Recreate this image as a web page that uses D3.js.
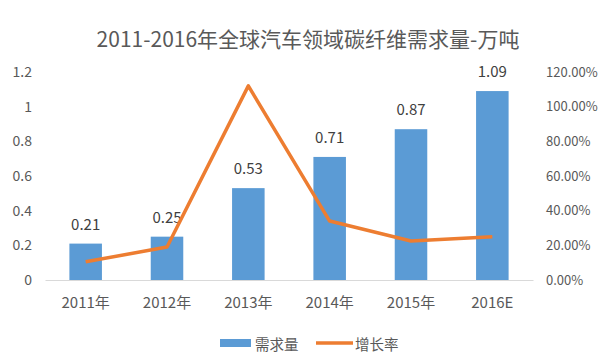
<!DOCTYPE html>
<html><head><meta charset="utf-8">
<script src="https://cdn.jsdelivr.net/npm/d3@7"></script>
<style>body{margin:0;background:#fff}svg{display:block}text{font-family:"Noto Sans CJK SC","Noto Sans",sans-serif}</style>
</head><body>
<svg id="c" width="600" height="354"></svg>
<script>
const categories = ["2011年","2012年","2013年","2014年","2015年","2016E"];
const demand = [0.21,0.25,0.53,0.71,0.87,1.09];
const growth = [0.105,0.19,1.12,0.34,0.225,0.25];
const leftTicks = [0,0.2,0.4,0.6,0.8,1,1.2];
const rightTicks = [0,0.2,0.4,0.6,0.8,1.0,1.2];
const title = "2011-2016年全球汽车领域碳纤维需求量-万吨";
const seriesNames = ["需求量","增长率"];

const svg = d3.select("#c");
const m = {l:45, r:533, t:72, b:280};
const x = d3.scaleBand().domain(categories).range([m.l, m.r]).paddingInner(0.6).paddingOuter(0.3);
const y = d3.scaleLinear().domain([0,1.2]).range([m.b, m.t]);
const y2 = d3.scaleLinear().domain([0,1.2]).range([m.b, m.t]);
const grey = "#595959";

svg.append("text").attr("x",308).attr("y",38).attr("text-anchor","middle")
  .attr("dominant-baseline","central").attr("font-size",21).attr("fill",grey).text(title);

// left axis
const la = svg.append("g").attr("transform",`translate(${m.l},0)`)
  .call(d3.axisLeft(y).tickValues(leftTicks).tickSize(0).tickPadding(13).tickFormat(d3.format("")));
la.select(".domain").remove();
la.selectAll("text").attr("font-size",14).attr("fill",grey);

// right axis
const ra = svg.append("g").attr("transform",`translate(${m.r},0)`)
  .call(d3.axisRight(y2).tickValues(rightTicks).tickSize(0).tickPadding(13).tickFormat(d3.format(".2%")));
ra.select(".domain").remove();
ra.selectAll("text").attr("font-size",13).attr("fill",grey);

// bottom axis
const ba = svg.append("g").attr("transform",`translate(0,${m.b})`)
  .call(d3.axisBottom(x).tickSize(0).tickPadding(17).tickSizeOuter(0));
ba.select(".domain").attr("stroke","#d9d9d9").attr("stroke-width",1);
ba.selectAll("text").attr("font-size",15).attr("fill",grey);

// bars
svg.append("g").selectAll("rect").data(demand).join("rect")
  .attr("x",(d,i)=>x(categories[i])).attr("width",x.bandwidth())
  .attr("y",d=>y(d)).attr("height",d=>y(0)-y(d)).attr("fill","#5B9BD5");

svg.append("g").selectAll("text").data(demand).join("text")
  .attr("x",(d,i)=>x(categories[i])+x.bandwidth()/2).attr("y",d=>y(d)-14)
  .attr("text-anchor","middle").attr("font-size",15).attr("fill","#404040")
  .text(d=>d3.format(".2f")(d));

// line
const line = d3.line().x((d,i)=>x(categories[i])+x.bandwidth()/2).y(d=>y2(d));
svg.append("path").datum(growth).attr("d",line).attr("fill","none")
  .attr("stroke","#ED7D31").attr("stroke-width",3.5).attr("stroke-linejoin","round");

// legend
const lg = svg.append("g");
lg.append("rect").attr("x",220).attr("y",339).attr("width",31).attr("height",8).attr("fill","#5B9BD5");
lg.append("text").attr("x",255).attr("y",343).attr("dominant-baseline","central")
  .attr("font-size",14.5).attr("fill",grey).text(seriesNames[0]);
lg.append("line").attr("x1",316).attr("x2",353).attr("y1",343).attr("y2",343)
  .attr("stroke","#ED7D31").attr("stroke-width",3.5);
lg.append("text").attr("x",355).attr("y",343).attr("dominant-baseline","central")
  .attr("font-size",14.5).attr("fill",grey).text(seriesNames[1]);
</script>
</body></html>
